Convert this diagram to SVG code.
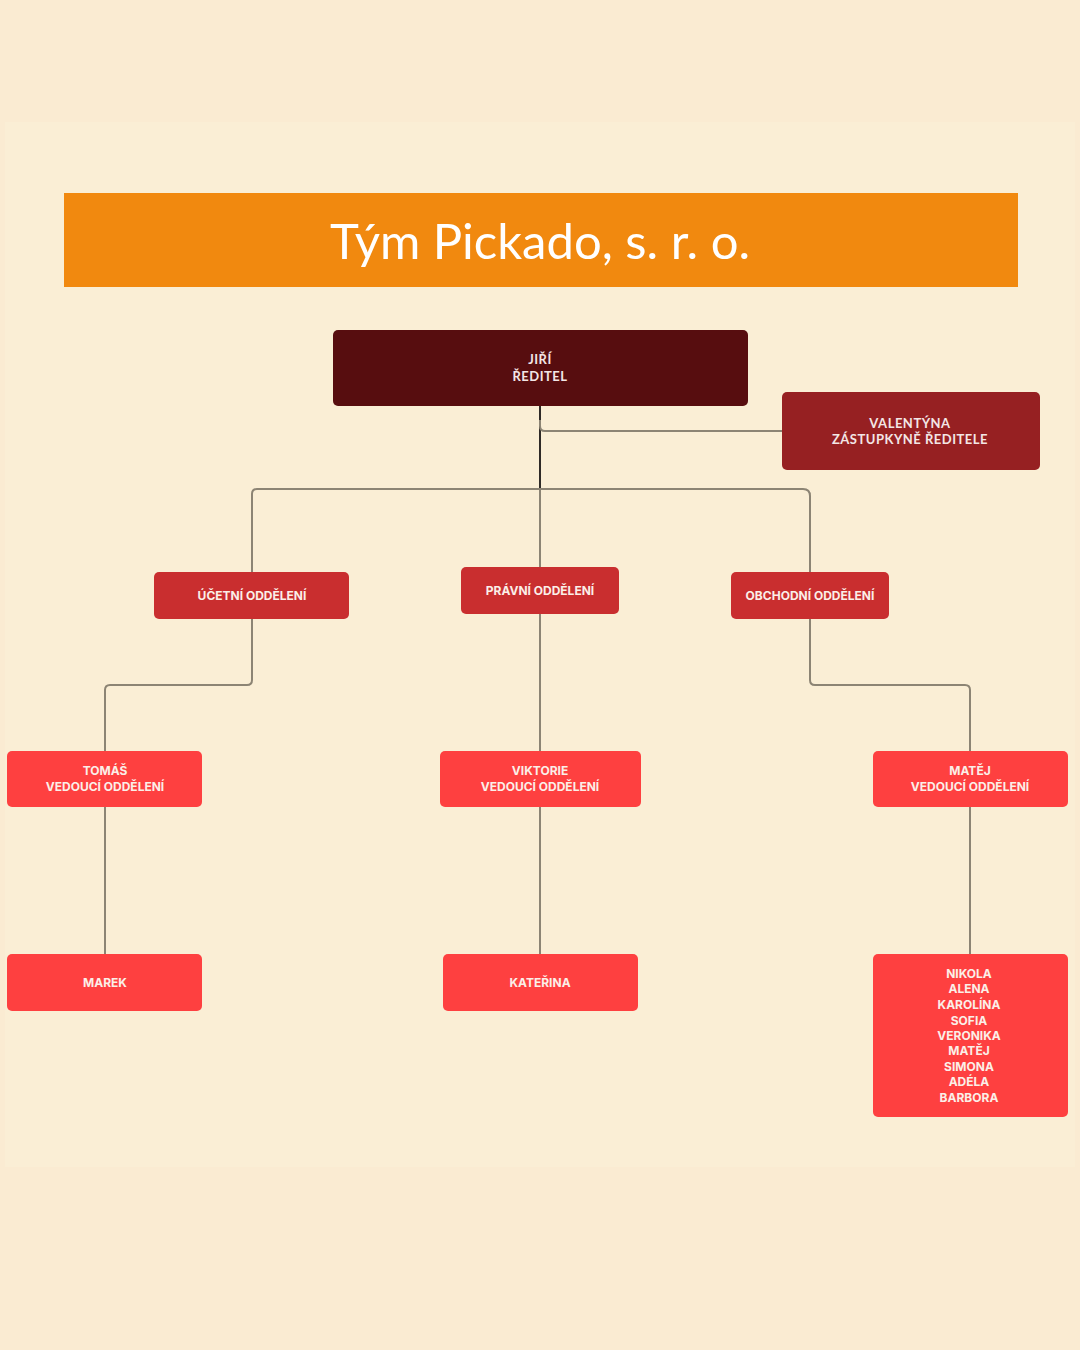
<svg xmlns="http://www.w3.org/2000/svg" width="1080" height="1350" viewBox="0 0 1080 1350">
<style>
.lbl{font-family:Inter,Roboto,"Liberation Sans",sans-serif;font-weight:700;font-size:12px;fill:#FBEFE8;text-anchor:middle}
.lblw{font-family:Lato,"Liberation Sans",sans-serif;font-weight:700;font-size:13px;fill:#F3E6E6;text-anchor:middle;letter-spacing:0.5px}
.c{fill:none;stroke:#8C8474;stroke-width:2}
.cd{fill:none;stroke:#2E2A26;stroke-width:2}
</style>
<rect width="1080" height="1350" fill="#FAEBD2"/>
<rect x="5" y="122" width="1070" height="1045" fill="#FAEED5"/>
<g id="title">
<rect x="64" y="193" width="954" height="94" fill="#F1890F"/>
<text x="540" y="259" font-family="Lato,'Open Sans',sans-serif" font-size="49" fill="#FFFFFF" text-anchor="middle">Tým Pickado, s. r. o.</text>
</g>
<g id="connectors">
<path class="cd" d="M540 406 V489"/>
<path class="c" d="M540 420 V426 Q540 431 545 431 H782"/>
<path class="c" d="M252 572 V494 Q252 489 257 489 H803 Q810 489 810 496 V572"/>
<path class="c" d="M540 489 V567"/>
<path class="c" d="M252 619 V680 Q252 685 247 685 H110 Q105 685 105 690 V751"/>
<path class="c" d="M540 614 V751"/>
<path class="c" d="M810 619 V680 Q810 685 815 685 H965 Q970 685 970 690 V751"/>
<path class="c" d="M105 807 V954"/>
<path class="c" d="M540 807 V954"/>
<path class="c" d="M970 807 V954"/>
</g>
<g id="jiri">
<rect x="333" y="330" width="415" height="76" rx="5" fill="#570D0F"/>
<text class="lblw" x="540" y="364">JIŘÍ</text>
<text class="lblw" x="540" y="381">ŘEDITEL</text>
</g>
<g id="valentyna">
<rect x="782" y="392" width="258" height="78" rx="5" fill="#962022"/>
<text class="lblw" x="910" y="428">VALENTÝNA</text>
<text class="lblw" x="910" y="444">ZÁSTUPKYNĚ ŘEDITELE</text>
</g>
<g id="ucetni">
<rect x="154" y="572" width="195" height="47" rx="5" fill="#C92E2F"/>
<text class="lbl" x="252" y="600">ÚČETNÍ ODDĚLENÍ</text>
</g>
<g id="pravni">
<rect x="461" y="567" width="158" height="47" rx="5" fill="#C92E2F"/>
<text class="lbl" x="540" y="595">PRÁVNÍ ODDĚLENÍ</text>
</g>
<g id="obchodni">
<rect x="731" y="572" width="158" height="47" rx="5" fill="#C92E2F"/>
<text class="lbl" x="810" y="600">OBCHODNÍ ODDĚLENÍ</text>
</g>
<g id="tomas">
<rect x="7" y="751" width="195" height="56" rx="5" fill="#FE4040"/>
<text class="lbl" x="105" y="775">TOMÁŠ</text>
<text class="lbl" x="105" y="791">VEDOUCÍ ODDĚLENÍ</text>
</g>
<g id="viktorie">
<rect x="440" y="751" width="201" height="56" rx="5" fill="#FE4040"/>
<text class="lbl" x="540" y="775">VIKTORIE</text>
<text class="lbl" x="540" y="791">VEDOUCÍ ODDĚLENÍ</text>
</g>
<g id="matej">
<rect x="873" y="751" width="195" height="56" rx="5" fill="#FE4040"/>
<text class="lbl" x="970" y="775">MATĚJ</text>
<text class="lbl" x="970" y="791">VEDOUCÍ ODDĚLENÍ</text>
</g>
<g id="marek">
<rect x="7" y="954" width="195" height="57" rx="5" fill="#FE4040"/>
<text class="lbl" x="105" y="987">MAREK</text>
</g>
<g id="katerina">
<rect x="443" y="954" width="195" height="57" rx="5" fill="#FE4040"/>
<text class="lbl" x="540" y="987">KATEŘINA</text>
</g>
<g id="tym">
<rect x="873" y="954" width="195" height="163" rx="5" fill="#FE4040"/>
<text class="lbl" x="969" y="978">NIKOLA</text>
<text class="lbl" x="969" y="993">ALENA</text>
<text class="lbl" x="969" y="1009">KAROLÍNA</text>
<text class="lbl" x="969" y="1025">SOFIA</text>
<text class="lbl" x="969" y="1040">VERONIKA</text>
<text class="lbl" x="969" y="1055">MATĚJ</text>
<text class="lbl" x="969" y="1071">SIMONA</text>
<text class="lbl" x="969" y="1086">ADÉLA</text>
<text class="lbl" x="969" y="1102">BARBORA</text>
</g>
</svg>
